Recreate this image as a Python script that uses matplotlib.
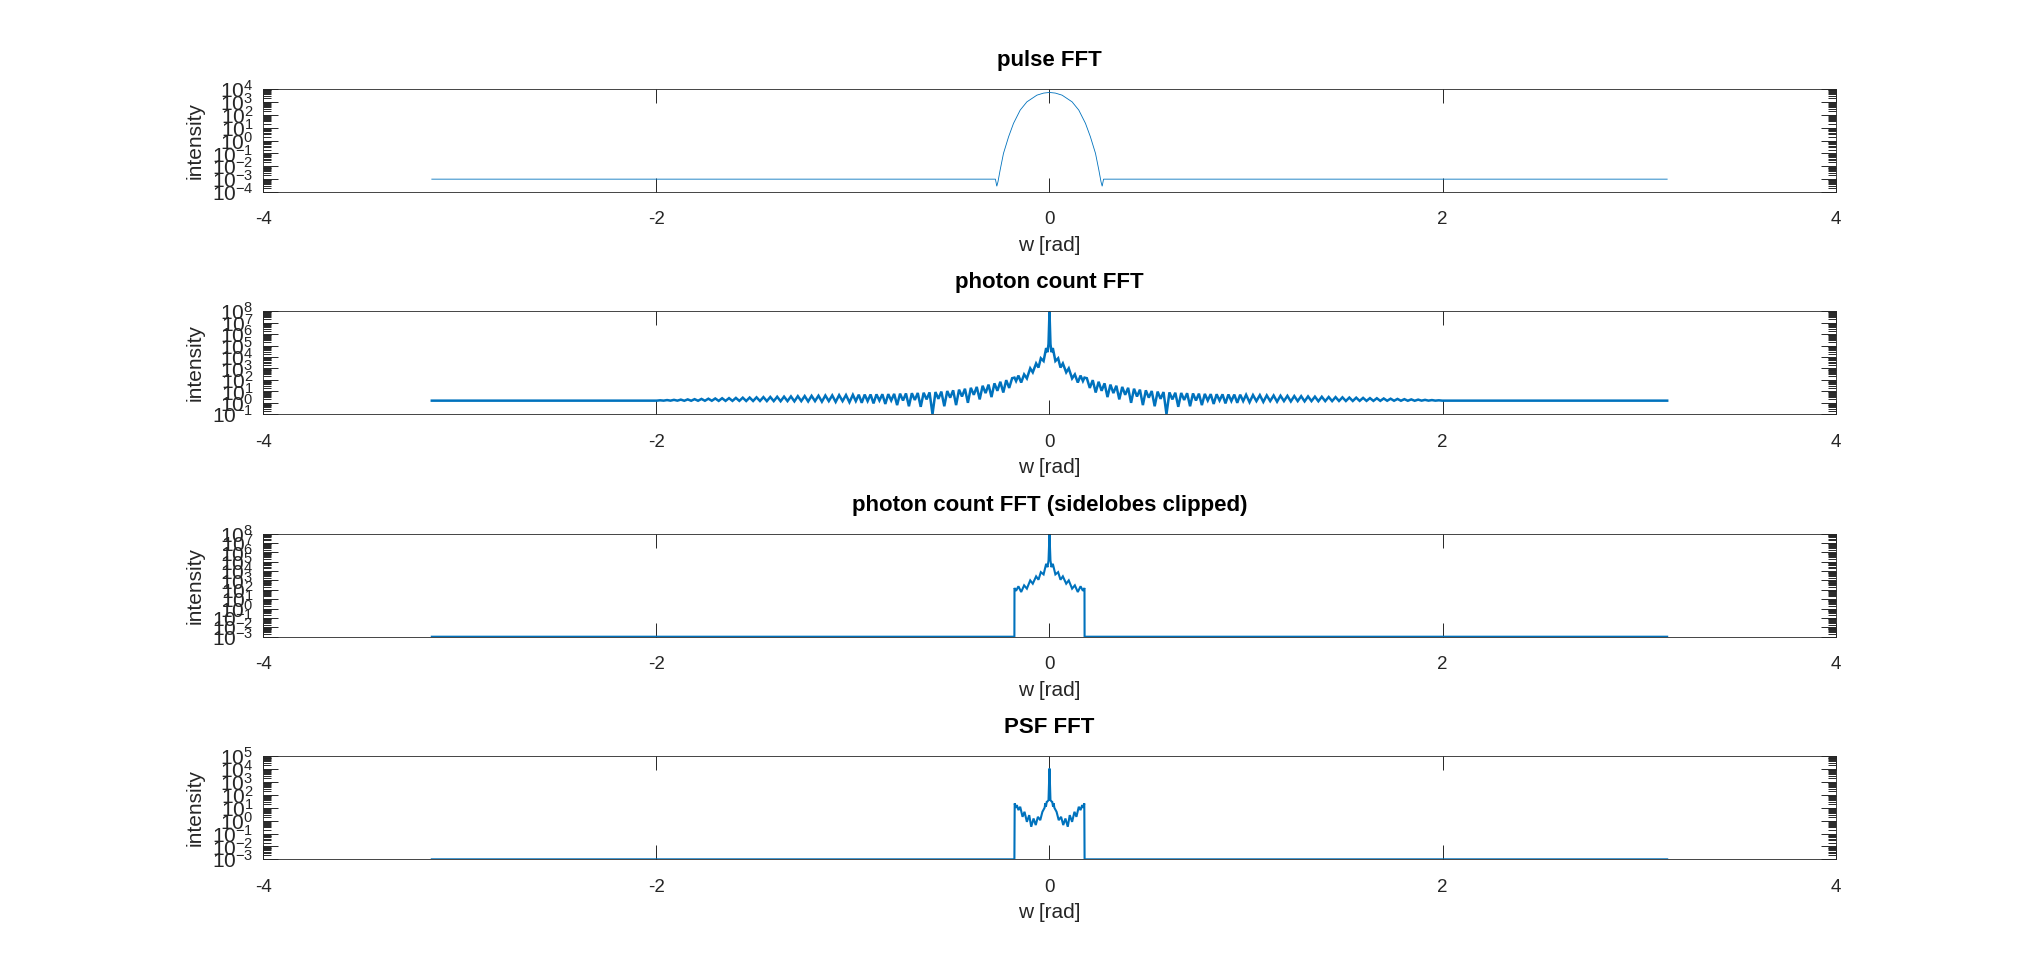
import numpy as np
import matplotlib
matplotlib.use("Agg")
import matplotlib.pyplot as plt
from matplotlib.ticker import LogLocator, NullFormatter, LogFormatterSciNotation

plt.rcParams['font.family'] = ['Liberation Sans', 'DejaVu Sans']
plt.rcParams['mathtext.default'] = 'regular'
plt.rcParams['axes.unicode_minus'] = False

# ---------------- data (positive half of each symmetric spectrum, log10 intensity) ----------------
PI = 3.1416

# pulse FFT
pulse_x = [0.000, 0.030, 0.064, 0.115, 0.149, 0.183, 0.208, 0.234, 0.251, 0.262, 0.268, 0.275, PI]
pulse_log = [3.73, 3.68, 3.52, 3.00, 2.36, 1.33, 0.29, -1.00, -2.29, -3.20, -3.55, -3.00, -3.00]

# photon count FFT, central part (shared with clipped version)
pc_center_x = [0.000, 0.005, 0.010, 0.017, 0.030, 0.044, 0.056, 0.068, 0.085, 0.098,
               0.115, 0.129, 0.144, 0.158, 0.170, 0.178]
pc_center_log = [7.95, 5.13, 4.42, 4.78, 3.65, 3.89, 3.08, 3.44, 2.66, 3.01,
                 2.13, 2.48, 1.77, 2.38, 1.90, 2.20]

# photon count FFT, sidelobe peaks
pc_peak_x = [0.190, 0.220, 0.250, 0.280, 0.310, 0.340, 0.370, 0.400, 0.430, 0.460,
             0.490, 0.520, 0.550, 0.580, 0.610, 0.640, 0.670, 0.700, 0.730, 0.760,
             0.790, 0.820, 0.850, 0.880, 0.910, 0.940, 0.970, 1.000, 1.035, 1.070,
             1.105, 1.140, 1.175, 1.210, 1.245, 1.280, 1.315, 1.350, 1.385, 1.420,
             1.455, 1.490, 1.525, 1.560, 1.595, 1.630, 1.665, 1.700, 1.735, 1.770,
             1.805, 1.840, 1.875, 1.910, 1.945, 1.980]
pc_peak_log = [2.15, 1.98, 1.84, 1.70, 1.59, 1.49, 1.39, 1.31, 1.23, 1.15,
               1.09, 1.03, 0.98, 0.94, 0.91, 0.88, 0.86, 0.84, 0.82, 0.80,
               0.78, 0.76, 0.75, 0.74, 0.73, 0.72, 0.71, 0.70, 0.68, 0.67,
               0.65, 0.64, 0.62, 0.61, 0.59, 0.58, 0.56, 0.54, 0.53, 0.51,
               0.50, 0.48, 0.46, 0.45, 0.43, 0.41, 0.40, 0.38, 0.36, 0.34,
               0.32, 0.30, 0.28, 0.26, 0.24, 0.22]

# photon count FFT, sidelobe troughs
pc_trough_x = [0.205, 0.235, 0.265, 0.295, 0.325, 0.355, 0.385, 0.415, 0.445, 0.475,
               0.505, 0.535, 0.565, 0.595, 0.625, 0.655, 0.685, 0.715, 0.745, 0.775,
               0.805, 0.835, 0.865, 0.895, 0.925, 0.955, 0.985, 1.0175, 1.0525, 1.0875,
               1.1225, 1.1575, 1.1925, 1.2275, 1.2625, 1.2975, 1.3325, 1.3675, 1.4025, 1.4375,
               1.4725, 1.5075, 1.5425, 1.5775, 1.6125, 1.6475, 1.6825, 1.7175, 1.7525, 1.7875,
               1.8225, 1.8575, 1.8925, 1.9275, 1.9625, 1.9975, PI]
pc_trough_log = [1.30, 0.90, 1.05, 0.50, 0.85, 0.30, 0.70, 0.00, 0.55, -0.20,
                 0.45, -0.30, 0.35, -1.00, 0.30, -0.35, 0.25, -0.30, 0.20, -0.20,
                 0.20, -0.10, 0.20, -0.05, 0.15, 0.00, 0.15, 0.05, 0.15, 0.08,
                 0.15, 0.10, 0.15, 0.12, 0.15, 0.13, 0.15, 0.14, 0.15, 0.15,
                 0.16, 0.16, 0.16, 0.17, 0.17, 0.17, 0.17, 0.18, 0.18, 0.18,
                 0.18, 0.18, 0.19, 0.19, 0.19, 0.19, 0.19]

# clipped version: floor value outside the kept band
clip_edge_x = [0.1785, PI]
clip_edge_log = [-3.00, -3.00]

# PSF FFT
psf_x = [0.000, 0.005, 0.010, 0.014, 0.018, 0.021, 0.025, 0.036, 0.047, 0.059,
         0.070, 0.081, 0.093, 0.103, 0.115, 0.127, 0.137, 0.149, 0.158, 0.166,
         0.172, 0.177, 0.1785, PI]
psf_log = [4.05, 1.59, 1.50, 1.46, 1.10, 1.35, 1.00, 0.69, 0.04, 0.30,
           -0.34, 0.17, -0.47, 0.43, -0.09, 0.69, 0.30, 1.08, 0.82, 1.21,
           1.00, 1.34, -3.00, -3.00]

titles = ["pulse FFT", "photon count FFT", "photon count FFT (sidelobes clipped)", "PSF FFT"]
ylims = [(1e-4, 1e4), (1e-1, 1e8), (1e-3, 1e8), (1e-3, 1e5)]
xticks = [-4, -2, 0, 2, 4]


def mirror(xp, lp):
    xp = np.asarray(xp, float)
    lp = np.asarray(lp, float)
    x = np.concatenate([-xp[::-1], xp[1:]])
    l = np.concatenate([lp[::-1], lp[1:]])
    return x, 10.0 ** l


def merged(*pairs):
    xs = np.concatenate([np.asarray(p[0], float) for p in pairs])
    ls = np.concatenate([np.asarray(p[1], float) for p in pairs])
    o = np.argsort(xs, kind='stable')
    return xs[o], ls[o]


series = []
series.append(mirror(pulse_x, pulse_log))
series.append(mirror(*merged((pc_center_x, pc_center_log), (pc_peak_x, pc_peak_log),
                             (pc_trough_x, pc_trough_log))))
series.append(mirror(*merged((pc_center_x, pc_center_log), (clip_edge_x, clip_edge_log))))
series.append(mirror(psf_x, psf_log))

fig = plt.figure(figsize=(20.28, 9.65), dpi=100)
bottoms = [0.8010, 0.5707, 0.3402, 0.1095]
axc = '#262626'
lws = [0.6, 1.8, 1.5, 1.5]

for i in range(4):
    ax = fig.add_axes([0.1297, bottoms[i], 0.7756, 0.1068])
    x, y = series[i]
    ax.plot(x, y, color='#0072BD', lw=lws[i], solid_joinstyle='miter')
    ax.set_yscale('log')
    ax.set_xlim(-4, 4)
    ax.set_ylim(*ylims[i])
    ax.set_xticks(xticks)
    ax.set_xticklabels([str(t) for t in xticks])
    ax.yaxis.set_major_locator(LogLocator(base=10, numticks=40))
    ax.yaxis.set_major_formatter(LogFormatterSciNotation())
    ax.yaxis.set_minor_locator(LogLocator(base=10, subs=np.arange(2, 10) * 1.0, numticks=40))
    ax.yaxis.set_minor_formatter(NullFormatter())
    ax.tick_params(axis='both', which='both', direction='in', top=True, right=True,
                   color=axc, labelcolor=axc, width=0.7)
    ax.tick_params(axis='x', which='major', length=10, labelsize=13.5, pad=14)
    ax.tick_params(axis='y', which='major', length=10.8, labelsize=15, pad=7)
    ax.tick_params(axis='y', which='minor', length=5.5)
    for s in ax.spines.values():
        s.set_color(axc)
        s.set_linewidth(0.6)
    ax.set_title(titles[i], fontsize=16, fontweight='bold', pad=16.5, color='black')
    ax.set_xlabel('w [rad]', fontsize=15, color=axc, labelpad=5.5)
    ax.set_ylabel('intensity', fontsize=15, color=axc, labelpad=5)

fig.savefig('out.png', dpi=100, facecolor='white')
